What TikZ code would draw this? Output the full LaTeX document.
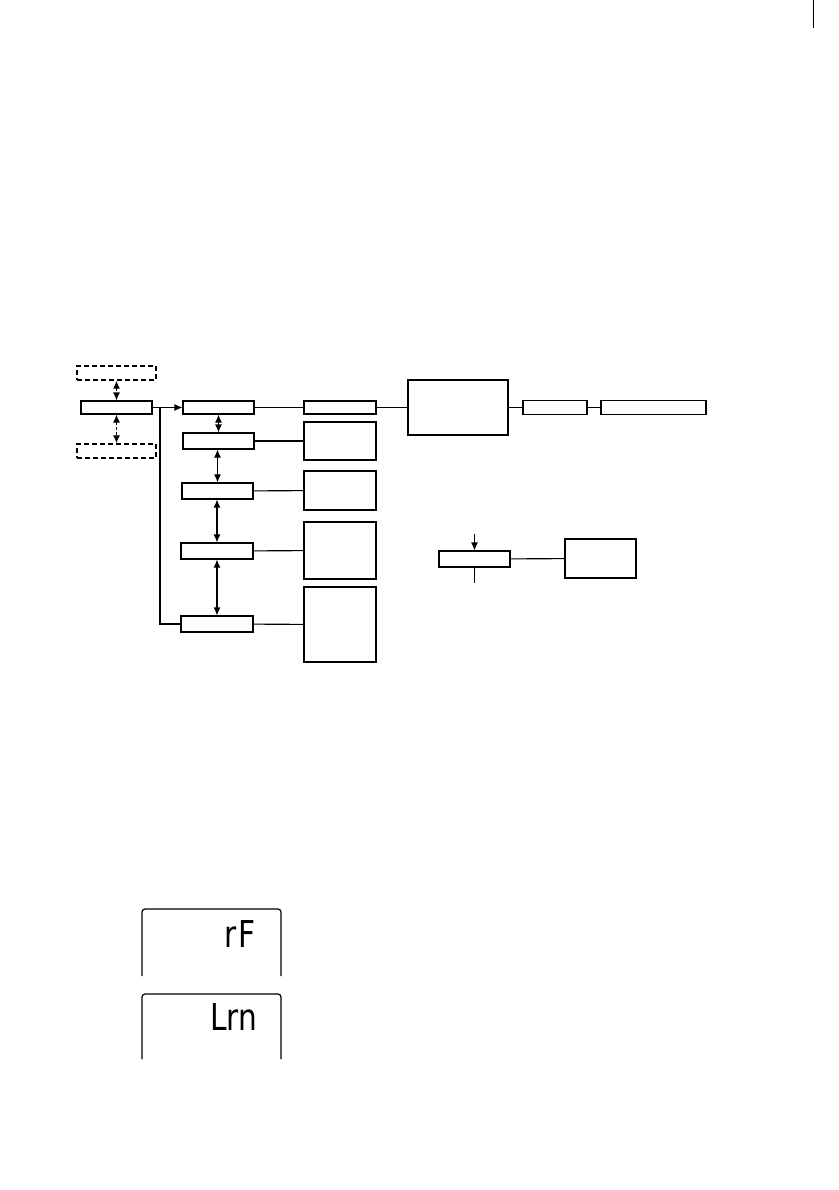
\documentclass[tikz,border=0pt]{standalone}
\usepackage{fontspec}
\usepackage{tikz}
\usetikzlibrary{arrows.meta, positioning}
\newfontfamily\segfont{DejaVu Sans}[FakeStretch=0.8]

\begin{document}
\begin{tikzpicture}[
    x=1pt, y=-1pt,
    box/.style={draw, line width=1.1pt, inner sep=0pt, minimum width=71pt, minimum height=16pt},
    dbox/.style={box, line width=1.4pt, dash pattern=on 5pt off 3pt, minimum width=79pt, minimum height=14pt},
    wbox/.style={box, minimum width=72pt},
    link/.style={line width=1.1pt},
    arr/.style={-{Latex[length=8pt,width=7pt]}, line width=1.1pt},
    darr/.style={{Latex[length=8pt,width=7pt]}-{Latex[length=8pt,width=7pt]}, line width=1.1pt},
    lcd/.style={line width=1.2pt, rounded corners=3pt},
    seg/.style={font=\segfont\fontsize{37}{37}\selectfont, inner sep=0pt, outer sep=0pt, anchor=base east}
]
\useasboundingbox (0,0) rectangle (838,1190);

\draw[line width=0.8pt] (813,0) -- (813,28);

\node[dbox] (dtop) at (116.5,373) {};
\node[box, minimum height=13pt] (menu) at (116.5,407.5) {};
\node[dbox] (dbot) at (116.5,451) {};

\node[box, minimum height=13pt] (a1) at (218.5,407.5) {};
\node[box] (a2) at (218.5,441) {};
\node[box] (a3) at (217.5,491) {};
\node[box, minimum width=72pt] (a4) at (217,551) {};
\node[box, minimum width=72pt] (a5) at (217,624) {};

\node[wbox, minimum height=13pt] (b1) at (340,407.5) {};
\node[wbox, minimum height=38pt] (b2) at (340,441) {};
\node[wbox, minimum height=39pt] (b3) at (340,490.5) {};
\node[wbox, minimum height=57pt] (b4) at (340,550.5) {};
\node[wbox, minimum height=75pt] (b5) at (340,624.5) {};

\node[box, minimum width=100pt, minimum height=55pt] (c) at (458,407.5) {};
\node[box, minimum width=64pt, minimum height=14pt] (d) at (555,407.5) {};
\node[box, minimum width=105pt, minimum height=14pt] (e) at (653.5,407.5) {};

\node[box] (f) at (474.5,559) {};
\node[box, minimum height=39pt] (g) at (600.5,558.5) {};
\coordinate (fin) at (474.5,534);
\coordinate (fout) at (474.5,583);
\coordinate (split) at (160,407.5);

\draw[darr, dash pattern=on 3pt off 2pt] (dtop) -- (menu);
\draw[darr, dash pattern=on 3pt off 2pt] (menu) -- (dbot);

\draw[link] (menu) -- (split);
\draw[arr] (split) -- (a1);
\draw[link] (split) |- (a5);

\draw[darr] (a1.south -| a2) -- (a2);
\draw[darr] (a2.south -| a3) -- (a3);
\draw[darr] (a3.south -| a4) -- (a4);
\draw[darr] (a4) -- (a5);

\draw[link] (a1) -- (b1);
\draw[link] (a2) -- (b2);
\draw[link] (a3) -- (b3);
\draw[link] (a4) -- (b4);
\draw[link] (a5) -- (b5);

\draw[link] (b1) -- (c);
\draw[link] (c) -- (d);
\draw[link] (d) -- (e);

\draw[arr] (fin) -- (f);
\draw[link] (f) -- (fout);
\draw[link] (f) -- (g);

\draw[lcd] (142,976) |- (281,909) -- (281,976);
\node[seg] (rf) at (256,947) {r\kern2pt F};
\draw[lcd] (142,1059) |- (281,994) -- (281,1059);
\node[seg] (lrn) at (257,1030) {Lrn};
\end{tikzpicture}
\end{document}
